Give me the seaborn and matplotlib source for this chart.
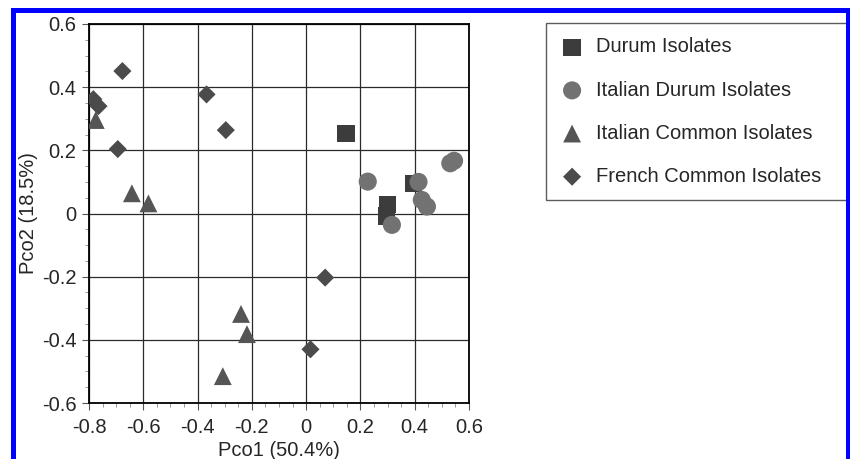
import numpy as np
import pandas as pd
import matplotlib.pyplot as plt
import matplotlib.patches as patches
from matplotlib.ticker import MultipleLocator
import seaborn as sns

# PCoA coordinates
durum_x = [0.147, 0.301, 0.296, 0.396]
durum_y = [0.254, 0.028, -0.008, 0.096]

it_durum_x = [0.227, 0.316, 0.414, 0.426, 0.445, 0.531, 0.545]
it_durum_y = [0.101, -0.036, 0.100, 0.043, 0.022, 0.159, 0.167]

it_common_x = [-0.775, -0.642, -0.581, -0.240, -0.218, -0.307]
it_common_y = [0.296, 0.064, 0.032, -0.318, -0.382, -0.515]

fr_common_x = [-0.677, -0.784, -0.765, -0.694, -0.367, -0.296, 0.070, 0.016]
fr_common_y = [0.451, 0.362, 0.340, 0.204, 0.377, 0.264, -0.203, -0.430]

groups = ['Durum Isolates', 'Italian Durum Isolates',
          'Italian Common Isolates', 'French Common Isolates']

df = pd.concat([
    pd.DataFrame({'x': durum_x, 'y': durum_y, 'group': groups[0]}),
    pd.DataFrame({'x': it_durum_x, 'y': it_durum_y, 'group': groups[1]}),
    pd.DataFrame({'x': it_common_x, 'y': it_common_y, 'group': groups[2]}),
    pd.DataFrame({'x': fr_common_x, 'y': fr_common_y, 'group': groups[3]}),
])

marks = {groups[0]: 's', groups[1]: 'o', groups[2]: '^', groups[3]: 'D'}
colors = {groups[0]: '#3c3c3c', groups[1]: '#727272', groups[2]: '#555555', groups[3]: '#4b4b4b'}
sizes = {groups[0]: 155, groups[1]: 170, groups[2]: 165, groups[3]: 85}

sns.set_style('white')
plt.rcParams['font.family'] = ['Liberation Sans', 'DejaVu Sans']
fs = 14.5

fig = plt.figure(figsize=(8.5, 4.59), dpi=100)
ax = fig.add_axes([89/850, 1-403/459, 380/850, 379/459])

for g in groups:
    sub = df[df['group'] == g]
    sns.scatterplot(data=sub, x='x', y='y', marker=marks[g], color=colors[g],
                    s=sizes[g], edgecolor='none', label=g, ax=ax, legend=False, zorder=3)

ax.set_xlim(-0.8, 0.6)
ax.set_ylim(-0.6, 0.6)
ax.xaxis.set_major_locator(MultipleLocator(0.2))
ax.yaxis.set_major_locator(MultipleLocator(0.2))
ax.xaxis.set_minor_locator(MultipleLocator(0.05))
ax.yaxis.set_minor_locator(MultipleLocator(0.05))
ax.xaxis.set_major_formatter(plt.FuncFormatter(lambda v, p: '0' if abs(v) < 1e-9 else f'{v:.1f}'))
ax.yaxis.set_major_formatter(plt.FuncFormatter(lambda v, p: '0' if abs(v) < 1e-9 else f'{v:.1f}'))
ax.grid(True, which='major', color='#2a2a2a', linewidth=0.9)
ax.tick_params(which='major', direction='out', length=5, width=0.8, color='#555555',
               labelsize=fs, pad=4, bottom=True, left=True)
ax.tick_params(axis='x', which='major', pad=6)
ax.tick_params(which='minor', direction='out', length=3, width=0.6, color='#888888',
               bottom=True, left=True)
for sp in ax.spines.values():
    sp.set_color('black')
    sp.set_linewidth(1.3)

ax.set_xlabel('Pco1 (50.4%)', fontsize=fs, labelpad=2.5)
ax.set_ylabel('Pco2 (18.5%)', fontsize=fs, labelpad=3)

leg = fig.legend(loc='upper left', bbox_to_anchor=(546/850, 1-199/459, 303/850, 176/459),
                 mode='expand', frameon=True, fontsize=fs, labelspacing=1.2, borderpad=0.72,
                 handlelength=1.15, handletextpad=0.62, borderaxespad=0, fancybox=False)
leg.get_frame().set_edgecolor('#333333')
leg.get_frame().set_linewidth(1.0)

# blue frame around the figure
fig.patches.append(patches.Rectangle((12.5/850, -0.2), (848-12.5)/850, 1.2 - 9.5/459,
                                     transform=fig.transFigure, fill=False,
                                     edgecolor='#0000ff', linewidth=3.6, zorder=10))

fig.savefig('out.png', dpi=100)
